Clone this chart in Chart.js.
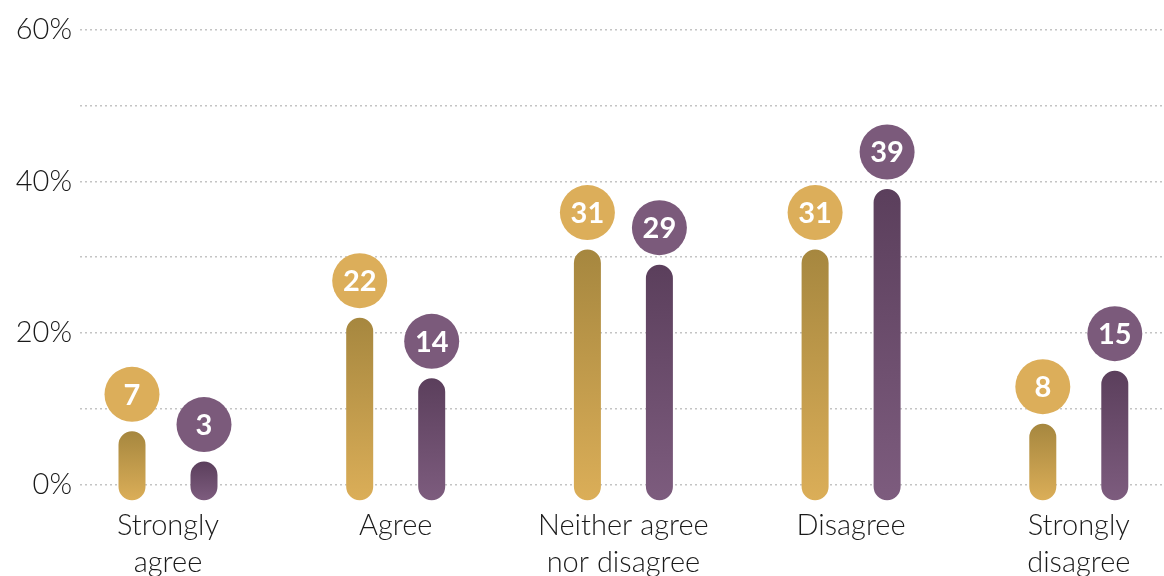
<!DOCTYPE html>
<html>
<head>
<meta charset="utf-8">
<script src="https://cdn.jsdelivr.net/npm/chart.js@4/dist/chart.umd.min.js"></script>
<style>
  html, body { margin: 0; padding: 0; background: #fff; overflow: hidden; }
  #wrap { width: 1164px; height: 600px; }
</style>
</head>
<body>
<div id="wrap"><canvas id="chart" width="1164" height="600"></canvas></div>
<script>
// Survey answers, in percent
const CATEGORIES = [
  ['Strongly', 'agree'],
  'Agree',
  ['Neither agree', 'nor disagree'],
  'Disagree',
  ['Strongly', 'disagree']
];
const GOLD_VALUES = [7, 22, 31, 31, 8];
const PURPLE_VALUES = [3, 14, 29, 39, 15];
const Y_TICKS = [0, 20, 40, 60];

const FONT = "Lato, 'Source Sans Pro', 'Open Sans', sans-serif";
const BAR_BASE = -2.1;   // bars dip a little below the 0% line

const GOLD = { top: '#a6873f', bottom: '#dbae58', dot: '#dcae5a' };
const PURPLE = { top: '#5b3f5c', bottom: '#7d5c7e', dot: '#7b5a7b' };

// vertical gradient over each bar, darker at the top
function barGradient(colors) {
  return (ctx) => {
    const chart = ctx.chart;
    if (!chart.chartArea || ctx.type !== 'data') return colors.bottom;
    const y = chart.scales.y;
    const top = y.getPixelForValue(ctx.raw.y);
    const bottom = y.getPixelForValue(BAR_BASE);
    const g = chart.ctx.createLinearGradient(0, top, 0, bottom);
    g.addColorStop(0, colors.top);
    g.addColorStop(1, colors.bottom);
    return g;
  };
}

// round value badges above every bar
const badgePlugin = {
  id: 'badges',
  afterDatasetsDraw(chart) {
    const ctx = chart.ctx;
    chart.data.datasets.forEach((ds, di) => {
      const meta = chart.getDatasetMeta(di);
      meta.data.forEach((bar, i) => {
        const cy = bar.y - 37;
        ctx.save();
        ctx.beginPath();
        ctx.arc(bar.x, cy, 27.5, 0, Math.PI * 2);
        ctx.fillStyle = ds.dotColor;
        ctx.fill();
        ctx.fillStyle = '#fff';
        ctx.font = `700 29px ${FONT}`;
        ctx.textAlign = 'center';
        ctx.textBaseline = 'middle';
        ctx.fillText(String(ds.data[i].y), bar.x, cy + 1);
        ctx.restore();
      });
    });
  }
};

function toPoints(values) {
  return values.map((v, i) => ({ x: i, y: v }));
}

new Chart(document.getElementById('chart'), {
  type: 'bar',
  data: {
    datasets: [
      {
        label: 'Gold',
        data: toPoints(GOLD_VALUES),
        backgroundColor: barGradient(GOLD),
        dotColor: GOLD.dot,
        base: BAR_BASE
      },
      {
        label: 'Purple',
        data: toPoints(PURPLE_VALUES),
        backgroundColor: barGradient(PURPLE),
        dotColor: PURPLE.dot,
        base: BAR_BASE
      }
    ]
  },
  options: {
    responsive: false,
    animation: false,
    events: [],
    categoryPercentage: 0.6324,
    barPercentage: 0.375,
    borderRadius: 14,
    borderSkipped: false,
    layout: { padding: { top: 30, right: 0, bottom: 0, left: 0 } },
    plugins: {
      legend: { display: false },
      tooltip: { enabled: false }
    },
    scales: {
      x: {
        type: 'linear',
        offset: false,
        min: -0.38647,
        max: 4.3742,
        grid: { display: false },
        border: { display: false },
        afterBuildTicks: (s) => { s.ticks = CATEGORIES.map((_, i) => ({ value: i })); },
        afterFit: (s) => { s.height = 93; },
        ticks: {
          autoSkip: false,
          maxRotation: 0,
          padding: -8,
          color: '#1a1a1a',
          font: { family: FONT, size: 29, weight: 300, lineHeight: 1.28 },
          callback: (v) => CATEGORIES[v]
        }
      },
      y: {
        min: -3,
        max: 60,
        afterBuildTicks: (s) => {
          s.ticks = [0, 10, 20, 30, 40, 50, 60].map(v => ({ value: v }));
        },
        afterFit: (s) => { s.width = 80; },
        grid: {
          color: '#c4c4c4',
          lineWidth: 1.5,
          drawTicks: false
        },
        border: { display: false, dash: [2, 3] },
        ticks: {
          padding: 8,
          color: '#1a1a1a',
          font: { family: FONT, size: 29, weight: 300 },
          callback: (v) => Y_TICKS.includes(v) ? v + '%' : ''
        }
      }
    }
  },
  plugins: [badgePlugin]
});
</script>
</body>
</html>
